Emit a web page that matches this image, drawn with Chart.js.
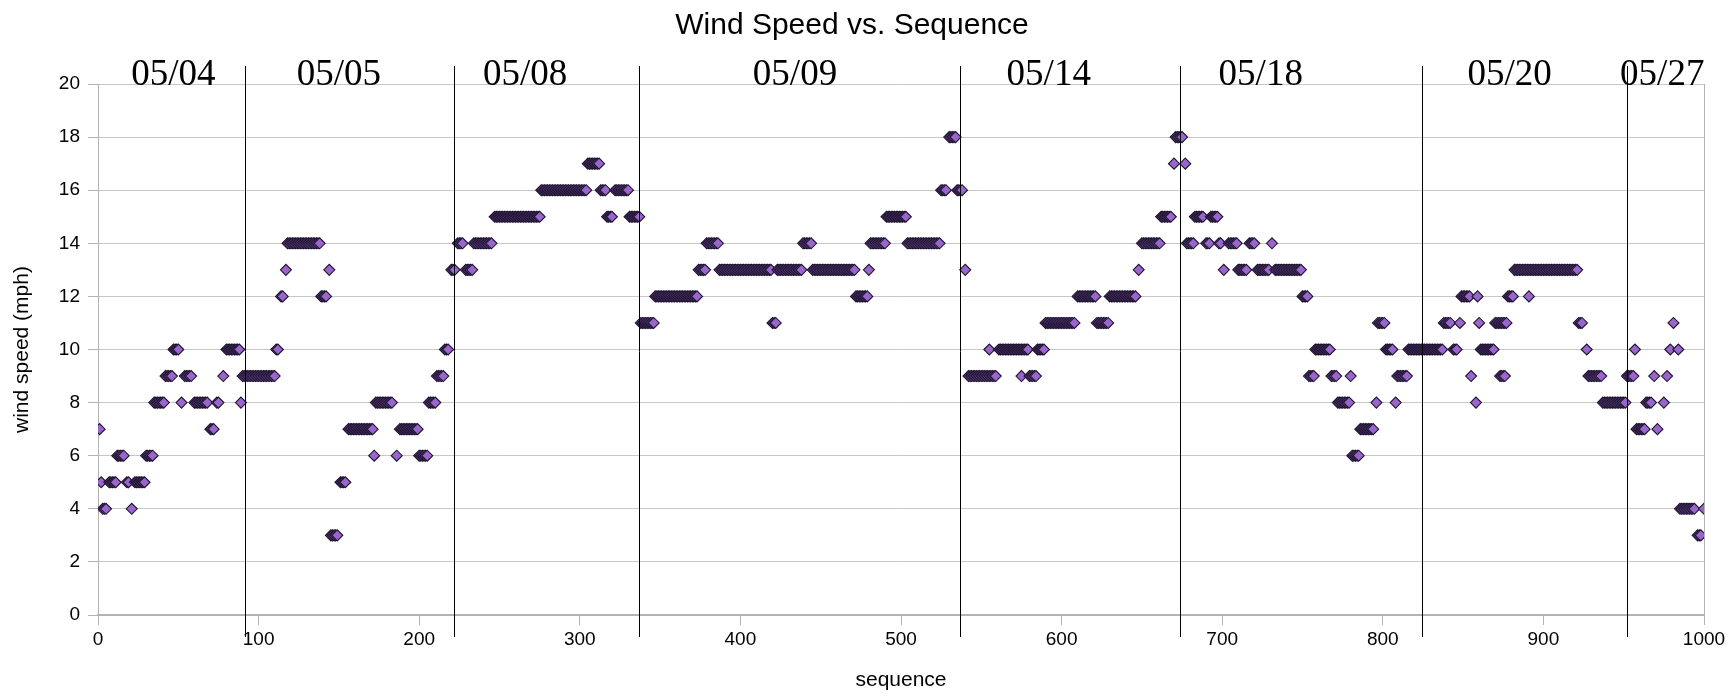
<!DOCTYPE html>
<html lang="en">
  <head>
    <meta charset="UTF-8" />
    <title>Wind Speed vs. Sequence</title>
    <style>
      body {
        margin: 0;
        background: #fff;
      }
      .container {
        width: 1732px;
        height: 696px;
      }
    </style>
  </head>
  <body>
    <div class="container">
      <canvas id="myChart"></canvas>
    </div>

    <script src="https://cdn.jsdelivr.net/npm/chart.js"></script>
    <script>
      // runs of equal readings: [first sequence, last sequence, wind speed mph]
      const windRuns = [
        [1, 1, 7], [2, 2, 5], [3, 5, 4], [7, 11, 5], [12, 16, 6], [18, 19, 5],
        [21, 21, 4], [23, 29, 5], [30, 34, 6], [35, 41, 8], [42, 46, 9],
        [47, 50, 10], [52, 52, 8], [54, 58, 9], [60, 68, 8], [70, 72, 7],
        [74, 75, 8], [78, 78, 9], [80, 88, 10], [89, 89, 8], [90, 110, 9],
        [111, 112, 10], [114, 115, 12], [117, 117, 13], [118, 138, 14],
        [139, 142, 12], [144, 144, 13], [145, 149, 3], [151, 154, 5],
        [156, 171, 7], [172, 172, 6], [173, 183, 8], [186, 186, 6],
        [188, 199, 7], [200, 205, 6], [206, 210, 8], [211, 215, 9],
        [216, 218, 10], [220, 222, 13], [224, 227, 14], [229, 233, 13],
        [234, 245, 14], [247, 275, 15], [276, 304, 16], [305, 312, 17],
        [313, 316, 16], [317, 320, 15], [322, 330, 16], [331, 337, 15],
        [338, 346, 11], [347, 373, 12], [374, 378, 13], [379, 386, 14],
        [387, 419, 13], [420, 422, 11], [423, 438, 13], [439, 444, 14],
        [445, 471, 13], [472, 479, 12], [480, 480, 13], [481, 490, 14],
        [491, 503, 15], [504, 524, 14], [525, 528, 16], [530, 534, 18],
        [535, 538, 16], [540, 540, 13], [542, 559, 9], [555, 555, 10],
        [561, 579, 10], [575, 575, 9], [580, 584, 9], [585, 589, 10],
        [590, 608, 11], [610, 621, 12], [622, 629, 11], [630, 646, 12],
        [648, 648, 13], [650, 661, 14], [662, 668, 15], [670, 670, 17],
        [671, 675, 18], [677, 677, 17], [678, 682, 14], [683, 688, 15],
        [690, 692, 14], [693, 697, 15], [698, 699, 14], [701, 701, 13],
        [704, 709, 14], [710, 715, 13], [717, 720, 14], [722, 729, 13],
        [731, 731, 14], [733, 749, 13], [750, 753, 12], [754, 757, 9],
        [758, 767, 10], [768, 771, 9], [772, 779, 8], [780, 780, 9],
        [781, 785, 6], [786, 794, 7], [796, 796, 8], [797, 801, 11],
        [802, 806, 10], [808, 808, 8], [809, 815, 9], [816, 837, 10],
        [838, 842, 11], [844, 846, 10], [848, 848, 11], [849, 854, 12],
        [855, 855, 9], [858, 858, 8], [859, 859, 12], [860, 860, 11],
        [861, 869, 10], [870, 877, 11], [873, 876, 9], [878, 881, 12],
        [882, 921, 13], [891, 891, 12], [922, 924, 11], [927, 927, 10],
        [928, 936, 9], [937, 951, 8], [952, 956, 9], [957, 957, 10],
        [958, 963, 7], [964, 967, 8], [969, 969, 9], [971, 971, 7],
        [975, 975, 8], [977, 977, 9], [979, 979, 10], [981, 981, 11],
        [984, 984, 10], [985, 994, 4], [996, 998, 3], [1000, 1000, 4],
      ];

      // day boundaries (sequence) and the date written above each day
      const dayBreaks = [91.5, 221.5, 337, 537, 673.5, 824.5, 952];
      const dayLabels = ["05/04", "05/05", "05/08", "05/09", "05/14", "05/18", "05/20", "05/27"];
      const dayLabelAt = [47, 150, 266, 434, 592, 724, 879, 974];

      const points = [];
      windRuns.forEach(([from, to, mph]) => {
        for (let s = from; s <= to; s++) points.push({ x: s, y: mph });
      });

      const dayMarks = {
        id: "dayMarks",
        afterDatasetsDraw(chart) {
          const { ctx, scales } = chart;
          ctx.save();
          ctx.strokeStyle = "#000";
          ctx.lineWidth = 1;
          dayBreaks.forEach((s) => {
            const x = Math.round(scales.x.getPixelForValue(s)) + 0.5;
            ctx.beginPath();
            ctx.moveTo(x, 66);
            ctx.lineTo(x, 637);
            ctx.stroke();
          });
          ctx.fillStyle = "#000";
          ctx.font = '37px "Liberation Serif", serif';
          ctx.textAlign = "center";
          ctx.textBaseline = "alphabetic";
          dayLabels.forEach((t, i) => {
            ctx.fillText(t, scales.x.getPixelForValue(dayLabelAt[i]), 85);
          });
          ctx.restore();
        },
      };

      const sans = "'Liberation Sans', Arial, sans-serif";

      const config = {
        type: "scatter",
        data: {
          datasets: [
            {
              label: "wind speed",
              data: points,
              pointStyle: "rectRot",
              pointRadius: 5.5,
              pointBackgroundColor: "#9966cc",
              pointBorderColor: "#1f1430",
              pointBorderWidth: 1.1,
            },
          ],
        },
        options: {
          responsive: true,
          maintainAspectRatio: false,
          animation: false,
          layout: { padding: { left: 0, right: 28, top: 0, bottom: 0 } },
          plugins: {
            legend: { display: false },
            tooltip: { enabled: false },
            title: {
              display: true,
              text: "Wind Speed vs. Sequence",
              color: "#000",
              font: { family: sans, size: 30, weight: "normal" },
              padding: { top: 8, bottom: 40 },
            },
          },
          scales: {
            x: {
              type: "linear",
              min: 0,
              max: 1000,
              ticks: {
                stepSize: 100,
                color: "#000",
                padding: 3,
                font: { family: sans, size: 19 },
                callback: (v) => String(v),
              },
              grid: {
                color: (c) => (c.tick && c.tick.value === 1000 ? "#b3b3b3" : "transparent"),
                tickColor: "#b3b3b3",
                tickLength: 10,
              },
              border: { color: "#b3b3b3", width: 2 },
              title: {
                display: true,
                text: "sequence",
                color: "#000",
                font: { family: sans, size: 21 },
                padding: { top: 4, bottom: 3 },
              },
              afterFit: (scale) => {
                scale.height = 81;
              },
            },
            y: {
              min: 0,
              max: 20,
              ticks: { stepSize: 2, color: "#000", padding: 8, font: { family: sans, size: 19 } },
              grid: { color: "#c8c8c8", tickColor: "#b3b3b3", tickLength: 10 },
              border: { color: "#b3b3b3" },
              title: {
                display: true,
                text: "wind speed (mph)",
                color: "#000",
                font: { family: sans, size: 21 },
                padding: { top: 10, bottom: 4 },
              },
              afterFit: (scale) => {
                scale.width = 98;
              },
            },
          },
        },
        plugins: [dayMarks],
      };

      new Chart(document.getElementById("myChart"), config);
    </script>
  </body>
</html>
